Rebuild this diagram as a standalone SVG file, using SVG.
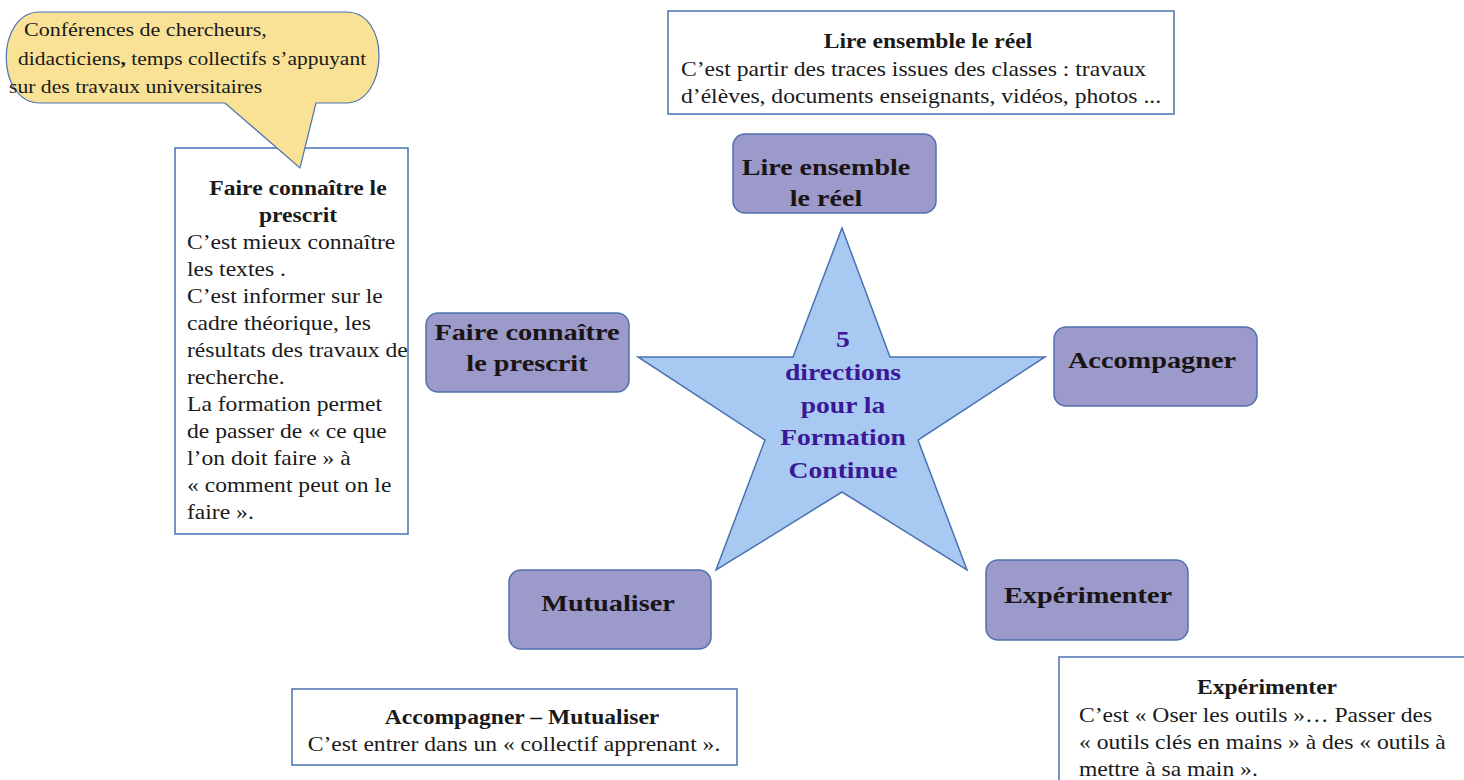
<svg xmlns="http://www.w3.org/2000/svg" width="1464" height="780" viewBox="0 0 1464 780">
<style>
.box{fill:#ffffff;stroke:#4a72b0;stroke-width:1.5}
.node{fill:#9b9acb;stroke:#4f70ae;stroke-width:1.5}
.t{font-family:"Liberation Serif",serif;font-size:20px;fill:#1a1a1a}
.k{font-family:"Liberation Serif",serif;font-size:19px;fill:#1a1a1a}
.b{font-weight:bold}
.n{font-family:"Liberation Serif",serif;font-size:24px;font-weight:bold;fill:#1a1414;text-anchor:middle}
.s{font-family:"Liberation Serif",serif;font-size:23px;font-weight:bold;fill:#3c1796;text-anchor:middle}
.c{text-anchor:middle}
</style>
<rect width="1464" height="780" fill="#ffffff"/>
<g id="box-prescrit">
<rect class="box" x="175" y="148" width="233" height="386"/>
<text class="t b c" x="0" y="195" transform="translate(298 0) scale(1.18 1)">Faire connaître le</text>
<text class="t b c" x="0" y="222" transform="translate(298 0) scale(1.18 1)">prescrit</text>
<g transform="translate(187 0) scale(1.18 1)">
<text class="t" x="0" y="249">C’est mieux connaître</text>
<text class="t" x="0" y="276">les textes .</text>
<text class="t" x="0" y="303">C’est informer sur le</text>
<text class="t" x="0" y="330">cadre théorique, les</text>
<text class="t" x="0" y="357">résultats des travaux de</text>
<text class="t" x="0" y="384">recherche.</text>
<text class="t" x="0" y="411">La formation permet</text>
<text class="t" x="0" y="438">de passer de « ce que</text>
<text class="t" x="0" y="465">l’on doit faire » à</text>
<text class="t" x="0" y="492">« comment peut on le</text>
<text class="t" x="0" y="519">faire ».</text>
</g>
</g>
<g id="callout">
<path d="M40,12 L346,12 C392,12 388,103 346,103 L316,103 L300,168 L225,103 L40,103 C-5,103 -5,12 40,12 Z" fill="#f9e196" stroke="#4a72b0" stroke-width="1.2"/>
<text class="k" x="0" y="36" transform="translate(24 0) scale(1.16 1)">Conférences de chercheurs,</text>
<text class="k" x="0" y="65" transform="translate(18 0) scale(1.13 1)"> didacticiens<tspan font-weight="bold">,</tspan> temps collectifs s’appuyant</text>
<text class="k" x="0" y="93" transform="translate(9 0) scale(1.14 1)">sur des travaux universitaires</text>
</g>
<g id="box-lire">
<rect class="box" x="668" y="11" width="506" height="103"/>
<text class="t b c" x="0" y="48" transform="translate(928 0) scale(1.18 1)">Lire ensemble le réel</text>
<g transform="translate(681 0) scale(1.18 1)">
<text class="t" x="0" y="76">C’est partir des traces issues des classes : travaux</text>
<text class="t" x="0" y="103">d’élèves, documents enseignants, vidéos, photos ...</text>
</g>
</g>
<g id="box-accompagner-mutualiser">
<rect class="box" x="292" y="689" width="445" height="76"/>
<text class="t b c" x="0" y="724" transform="translate(522 0) scale(1.18 1)">Accompagner – Mutualiser</text>
<text class="t c" x="0" y="751" transform="translate(514 0) scale(1.18 1)">C’est entrer dans un « collectif apprenant ».</text>
</g>
<g id="box-experimenter">
<rect class="box" x="1059" y="657" width="420" height="140"/>
<text class="t b c" x="0" y="694" transform="translate(1267 0) scale(1.18 1)">Expérimenter</text>
<g transform="translate(1079 0) scale(1.18 1)">
<text class="t" x="0" y="722">C’est « Oser les outils »… Passer des</text>
<text class="t" x="0" y="749">« outils clés en mains » à des « outils à</text>
<text class="t" x="0" y="776">mettre à sa main ».</text>
</g>
</g>
<g id="star">
<polygon points="842,228 890,357 1045,357 918,440 967,570 842,492 716,570 765,440 638,357 793,357" fill="#a8caf2" stroke="#4a72b0" stroke-width="1.5"/>
<g transform="translate(843 0) scale(1.2 1)">
<text class="s" x="0" y="347">5</text>
<text class="s" x="0" y="380">directions</text>
<text class="s" x="0" y="413">pour la</text>
<text class="s" x="0" y="445">Formation</text>
<text class="s" x="0" y="478">Continue</text>
</g>
</g>
<g id="node-lire">
<rect class="node" x="733" y="134" width="203" height="79" rx="12"/>
<g transform="translate(826 0) scale(1.17 1)">
<text class="n" x="0" y="175">Lire ensemble</text>
<text class="n" x="0" y="206">le réel</text>
</g>
</g>
<g id="node-prescrit">
<rect class="node" x="426" y="313" width="203" height="79" rx="12"/>
<g transform="translate(527 0) scale(1.18 1)">
<text class="n" x="0" y="340">Faire connaître</text>
<text class="n" x="0" y="371">le prescrit</text>
</g>
</g>
<g id="node-accompagner">
<rect class="node" x="1054" y="327" width="203" height="79" rx="12"/>
<text class="n" x="0" y="368" transform="translate(1152 0) scale(1.18 1)">Accompagner</text>
</g>
<g id="node-mutualiser">
<rect class="node" x="509" y="570" width="202" height="79" rx="12"/>
<text class="n" x="0" y="611" transform="translate(608 0) scale(1.18 1)">Mutualiser</text>
</g>
<g id="node-experimenter">
<rect class="node" x="986" y="560" width="202" height="80" rx="12"/>
<text class="n" x="0" y="603" transform="translate(1088 0) scale(1.18 1)">Expérimenter</text>
</g>
<g id="connectors"></g>
</svg>
